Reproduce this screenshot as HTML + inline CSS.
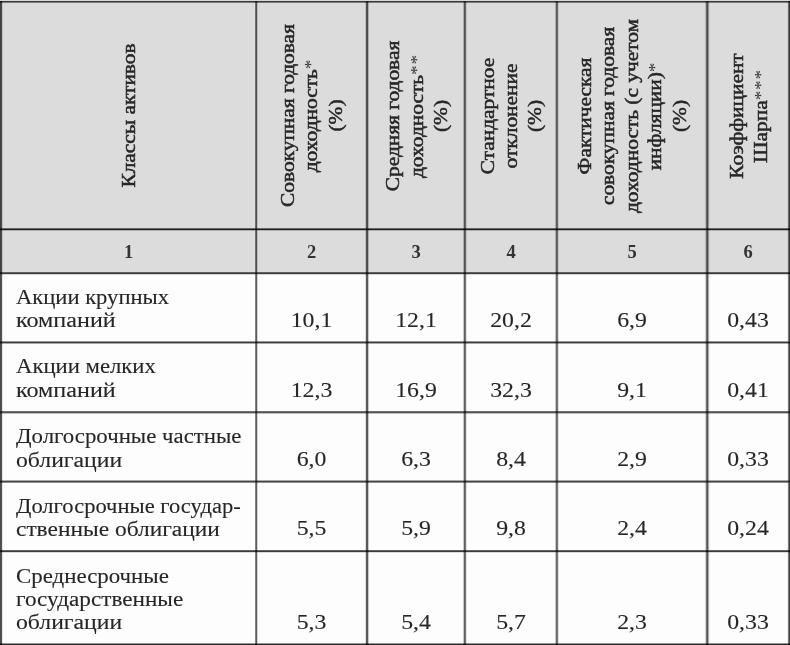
<!DOCTYPE html><html><head><meta charset="utf-8"><style>
html,body{margin:0;padding:0;background:#fdfdfd;}
body{width:790px;height:645px;position:relative;overflow:hidden;font-family:"Liberation Serif",serif;color:#262626;-webkit-text-stroke:0.12px #262626;}
#w{position:absolute;left:0;top:0;width:790px;height:645px;will-change:transform;}
.l{position:absolute;background:#3c3c3c;}
.t{position:absolute;white-space:nowrap;font-size:20.5px;line-height:24px;transform:scaleX(1.105);transform-origin:0 0;}
.h{position:absolute;display:flex;align-items:center;justify-content:center;text-align:center;white-space:nowrap;font-size:19px;line-height:23.6px;transform:rotate(-90deg) scaleX(1.125);-webkit-text-stroke:0.5px #262626;}
.n{position:absolute;font-weight:bold;color:#333;-webkit-text-stroke:0;font-size:18.5px;line-height:24px;text-align:center;}
.v{position:absolute;text-align:center;font-size:22px;line-height:24px;white-space:nowrap;transform:scaleX(1.08);}
sup{font-size:17px;vertical-align:0;position:relative;top:-1px;letter-spacing:0.8px;-webkit-text-stroke:0;color:#333;}
</style></head><body><div id="w">

<div style="position:absolute;left:0;top:2px;width:790px;height:272px;background:#dcdcdc"></div>
<div class="l" style="left:0px;top:1px;width:1px;height:644px;background:rgba(0,0,0,0.704)"></div>
<div class="l" style="left:1px;top:1px;width:1px;height:644px;background:rgba(0,0,0,0.664)"></div>
<div class="l" style="left:2px;top:1px;width:1px;height:644px;background:rgba(0,0,0,0.111)"></div>
<div class="l" style="left:255px;top:1px;width:1px;height:644px;background:rgba(0,0,0,0.486)"></div>
<div class="l" style="left:256px;top:1px;width:1px;height:644px;background:rgba(0,0,0,0.644)"></div>
<div class="l" style="left:257px;top:1px;width:1px;height:644px;background:rgba(0,0,0,0.150)"></div>
<div class="l" style="left:365px;top:1px;width:1px;height:644px;background:rgba(0,0,0,0.130)"></div>
<div class="l" style="left:366px;top:1px;width:1px;height:644px;background:rgba(0,0,0,0.625)"></div>
<div class="l" style="left:367px;top:1px;width:1px;height:644px;background:rgba(0,0,0,0.664)"></div>
<div class="l" style="left:368px;top:1px;width:1px;height:644px;background:rgba(0,0,0,0.209)"></div>
<div class="l" style="left:463px;top:1px;width:1px;height:644px;background:rgba(0,0,0,0.209)"></div>
<div class="l" style="left:464px;top:1px;width:1px;height:644px;background:rgba(0,0,0,0.625)"></div>
<div class="l" style="left:465px;top:1px;width:1px;height:644px;background:rgba(0,0,0,0.526)"></div>
<div class="l" style="left:466px;top:1px;width:1px;height:644px;background:rgba(0,0,0,0.111)"></div>
<div class="l" style="left:555px;top:1px;width:1px;height:644px;background:rgba(0,0,0,0.209)"></div>
<div class="l" style="left:556px;top:1px;width:1px;height:644px;background:rgba(0,0,0,0.585)"></div>
<div class="l" style="left:557px;top:1px;width:1px;height:644px;background:rgba(0,0,0,0.526)"></div>
<div class="l" style="left:558px;top:1px;width:1px;height:644px;background:rgba(0,0,0,0.111)"></div>
<div class="l" style="left:705px;top:1px;width:1px;height:644px;background:rgba(0,0,0,0.170)"></div>
<div class="l" style="left:706px;top:1px;width:1px;height:644px;background:rgba(0,0,0,0.526)"></div>
<div class="l" style="left:707px;top:1px;width:1px;height:644px;background:rgba(0,0,0,0.664)"></div>
<div class="l" style="left:708px;top:1px;width:1px;height:644px;background:rgba(0,0,0,0.328)"></div>
<div class="l" style="left:709px;top:1px;width:1px;height:644px;background:rgba(0,0,0,0.051)"></div>
<div class="l" style="left:787px;top:1px;width:1px;height:644px;background:rgba(0,0,0,0.051)"></div>
<div class="l" style="left:788px;top:1px;width:1px;height:644px;background:rgba(0,0,0,0.526)"></div>
<div class="l" style="left:789px;top:1px;width:1px;height:644px;background:rgba(0,0,0,0.743)"></div>
<div class="l" style="left:0;top:0px;width:790px;height:1px;background:rgba(0,0,0,0.150)"></div>
<div class="l" style="left:0;top:1px;width:790px;height:1px;background:rgba(0,0,0,0.763)"></div>
<div class="l" style="left:0;top:2px;width:790px;height:1px;background:rgba(0,0,0,0.447)"></div>
<div class="l" style="left:0;top:228px;width:790px;height:1px;background:rgba(0,0,0,0.526)"></div>
<div class="l" style="left:0;top:229px;width:790px;height:1px;background:rgba(0,0,0,0.862)"></div>
<div class="l" style="left:0;top:230px;width:790px;height:1px;background:rgba(0,0,0,0.209)"></div>
<div class="l" style="left:0;top:272px;width:790px;height:1px;background:rgba(0,0,0,0.565)"></div>
<div class="l" style="left:0;top:273px;width:790px;height:1px;background:rgba(0,0,0,0.723)"></div>
<div class="l" style="left:0;top:274px;width:790px;height:1px;background:rgba(0,0,0,0.150)"></div>
<div class="l" style="left:0;top:341px;width:790px;height:1px;background:rgba(0,0,0,0.407)"></div>
<div class="l" style="left:0;top:342px;width:790px;height:1px;background:rgba(0,0,0,0.763)"></div>
<div class="l" style="left:0;top:343px;width:790px;height:1px;background:rgba(0,0,0,0.328)"></div>
<div class="l" style="left:0;top:411px;width:790px;height:1px;background:rgba(0,0,0,0.565)"></div>
<div class="l" style="left:0;top:412px;width:790px;height:1px;background:rgba(0,0,0,0.664)"></div>
<div class="l" style="left:0;top:413px;width:790px;height:1px;background:rgba(0,0,0,0.249)"></div>
<div class="l" style="left:0;top:480px;width:790px;height:1px;background:rgba(0,0,0,0.328)"></div>
<div class="l" style="left:0;top:481px;width:790px;height:1px;background:rgba(0,0,0,0.723)"></div>
<div class="l" style="left:0;top:482px;width:790px;height:1px;background:rgba(0,0,0,0.447)"></div>
<div class="l" style="left:0;top:550px;width:790px;height:1px;background:rgba(0,0,0,0.605)"></div>
<div class="l" style="left:0;top:551px;width:790px;height:1px;background:rgba(0,0,0,0.763)"></div>
<div class="l" style="left:0;top:552px;width:790px;height:1px;background:rgba(0,0,0,0.130)"></div>
<div class="l" style="left:0;top:643px;width:790px;height:1px;background:rgba(0,0,0,0.407)"></div>
<div class="l" style="left:0;top:644px;width:790px;height:1px;background:rgba(0,0,0,0.842)"></div>
<div class="h" style="left:16.0px;top:-11.0px;width:225px;height:253px"><div>Классы активов</div></div>
<div class="h" style="left:199.0px;top:61.0px;width:225px;height:109px"><div>Совокупная годовая<br>доходность<sup>*</sup><br>(%)</div></div>
<div class="h" style="left:303.5px;top:67.5px;width:225px;height:96px"><div>Средняя годовая<br>доходность<sup>**</sup><br>(%)</div></div>
<div class="h" style="left:397.5px;top:70.5px;width:225px;height:90px"><div>Стандартное<br>отклонение<br>(%)</div></div>
<div class="h" style="left:518.5px;top:41.5px;width:225px;height:148px"><div>Фактическая<br>совокупная годовая<br>доходность (с учетом<br>инфляции)<sup>*</sup><br>(%)</div></div>
<div class="h" style="left:635.5px;top:75.5px;width:225px;height:80px"><div>Коэффициент<br>Шарпа<sup>***</sup></div></div>
<div class="n" style="left:2px;top:240px;width:253px">1</div>
<div class="n" style="left:257px;top:240px;width:109px">2</div>
<div class="n" style="left:368px;top:240px;width:96px">3</div>
<div class="n" style="left:466px;top:240px;width:90px">4</div>
<div class="n" style="left:558px;top:240px;width:148px">5</div>
<div class="n" style="left:708px;top:240px;width:80px">6</div>
<div class="t" style="left:15.5px;top:284.70px;transform:scaleX(1.101)">Акции крупных</div>
<div class="t" style="left:15.5px;top:308.00px;transform:scaleX(1.177)">компаний</div>
<div class="v" style="left:257px;top:307.50px;width:109px">10,1</div>
<div class="v" style="left:368px;top:307.50px;width:96px">12,1</div>
<div class="v" style="left:466px;top:307.50px;width:90px">20,2</div>
<div class="v" style="left:558px;top:307.50px;width:148px">6,9</div>
<div class="v" style="left:708px;top:307.50px;width:80px">0,43</div>
<div class="t" style="left:15.5px;top:353.90px;transform:scaleX(1.107)">Акции мелких</div>
<div class="t" style="left:15.5px;top:378.30px;transform:scaleX(1.177)">компаний</div>
<div class="v" style="left:257px;top:377.80px;width:109px">12,3</div>
<div class="v" style="left:368px;top:377.80px;width:96px">16,9</div>
<div class="v" style="left:466px;top:377.80px;width:90px">32,3</div>
<div class="v" style="left:558px;top:377.80px;width:148px">9,1</div>
<div class="v" style="left:708px;top:377.80px;width:80px">0,41</div>
<div class="t" style="left:15.5px;top:423.90px;transform:scaleX(1.113)">Долгосрочные частные</div>
<div class="t" style="left:15.5px;top:447.60px;transform:scaleX(1.156)">облигации</div>
<div class="v" style="left:257px;top:447.10px;width:109px">6,0</div>
<div class="v" style="left:368px;top:447.10px;width:96px">6,3</div>
<div class="v" style="left:466px;top:447.10px;width:90px">8,4</div>
<div class="v" style="left:558px;top:447.10px;width:148px">2,9</div>
<div class="v" style="left:708px;top:447.10px;width:80px">0,33</div>
<div class="t" style="left:15.5px;top:493.50px;transform:scaleX(1.100)">Долгосрочные государ-</div>
<div class="t" style="left:15.5px;top:516.80px;transform:scaleX(1.142)">ственные облигации</div>
<div class="v" style="left:257px;top:516.30px;width:109px">5,5</div>
<div class="v" style="left:368px;top:516.30px;width:96px">5,9</div>
<div class="v" style="left:466px;top:516.30px;width:90px">9,8</div>
<div class="v" style="left:558px;top:516.30px;width:148px">2,4</div>
<div class="v" style="left:708px;top:516.30px;width:80px">0,24</div>
<div class="t" style="left:15.5px;top:563.50px;transform:scaleX(1.116)">Среднесрочные</div>
<div class="t" style="left:15.5px;top:586.80px;transform:scaleX(1.132)">государственные</div>
<div class="t" style="left:15.5px;top:610.10px;transform:scaleX(1.156)">облигации</div>
<div class="v" style="left:257px;top:609.60px;width:109px">5,3</div>
<div class="v" style="left:368px;top:609.60px;width:96px">5,4</div>
<div class="v" style="left:466px;top:609.60px;width:90px">5,7</div>
<div class="v" style="left:558px;top:609.60px;width:148px">2,3</div>
<div class="v" style="left:708px;top:609.60px;width:80px">0,33</div>
</div></body></html>
